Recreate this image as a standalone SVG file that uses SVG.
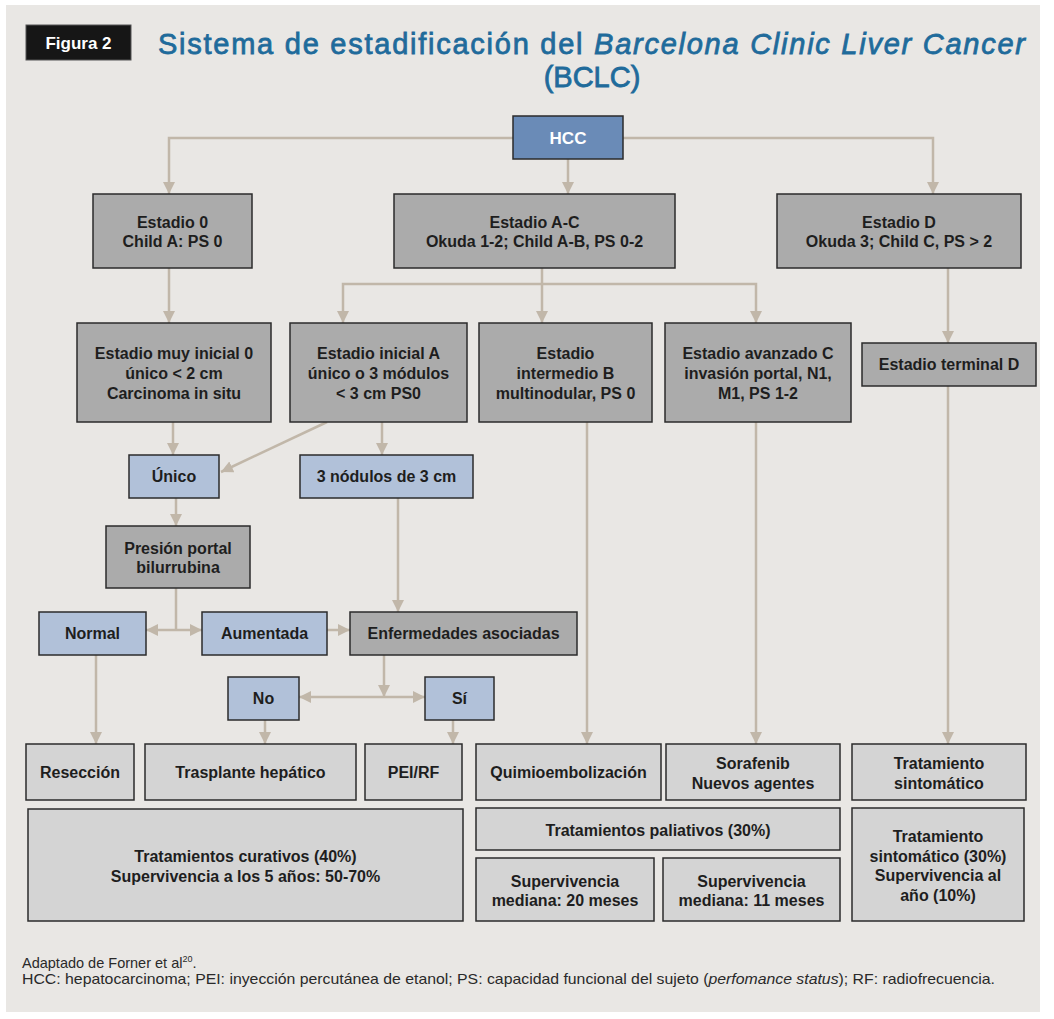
<svg xmlns="http://www.w3.org/2000/svg" width="1054" height="1019" viewBox="0 0 1054 1019">
<defs>
<style>
.t{font-family:"Liberation Sans",Arial,sans-serif;font-weight:bold;font-size:16px;fill:#1e1e1e;text-anchor:middle}
.w{fill:#ffffff;font-size:17px}
.dk{fill:#ababab;stroke:#2b2b2b;stroke-width:1.5}
.lt{fill:#d4d4d4;stroke:#2b2b2b;stroke-width:1.5}
.bl{fill:#b1c1d9;stroke:#2b2b2b;stroke-width:1.5}
.hc{fill:#6a8bb7;stroke:#2b2b2b;stroke-width:1.5}
.c{fill:none;stroke:#c1b7a9;stroke-width:2.5}
.ttl{font-family:"Liberation Sans",Arial,sans-serif;font-weight:normal;font-size:29px;fill:#1f6b9b;stroke:#1f6b9b;stroke-width:0.8}
.fn{font-family:"Liberation Sans",Arial,sans-serif;font-size:14.5px;fill:#2a2a2a}
</style>
<marker id="ah" viewBox="0 0 12 12" refX="12" refY="6" markerWidth="12" markerHeight="12" markerUnits="userSpaceOnUse" orient="auto-start-reverse">
<path d="M0,0 L12,6 L0,12 z" fill="#c1b7a9"/>
</marker>
</defs>
<rect x="0" y="0" width="1054" height="1019" fill="#ffffff"/>
<rect x="6" y="5" width="1034" height="1007" fill="#e9e7e4"/>

<g id="figlabel">
<rect x="26" y="25" width="105" height="35" fill="#161616" stroke="#555" stroke-width="1"/>
<text x="78.5" y="49" font-family="Liberation Sans,Arial,sans-serif" font-weight="bold" font-size="17" fill="#ffffff" text-anchor="middle">Figura 2</text>
</g>
<g id="title">
<text class="ttl" x="158" y="54" textLength="867" lengthAdjust="spacing">Sistema de estadificación del <tspan font-style="italic">Barcelona Clinic Liver Cancer</tspan></text>
<text class="ttl" x="592" y="87" text-anchor="middle">(BCLC)</text>
</g>

<g id="connectors">
<path class="c" d="M513,138 H169 V194" marker-end="url(#ah)"/>
<path class="c" d="M568,159 V194" marker-end="url(#ah)"/>
<path class="c" d="M623,138 H933 V194" marker-end="url(#ah)"/>
<path class="c" d="M169,268 V323" marker-end="url(#ah)"/>
<path class="c" d="M542,268 V323" marker-end="url(#ah)"/>
<path class="c" d="M343,323 V284 H756 V323" marker-start="url(#ah)" marker-end="url(#ah)"/>
<path class="c" d="M948,268 V343" marker-end="url(#ah)"/>
<path class="c" d="M173,422 V455" marker-end="url(#ah)"/>
<path class="c" d="M327,422 L221,472" marker-end="url(#ah)"/>
<path class="c" d="M382,422 V455" marker-end="url(#ah)"/>
<path class="c" d="M176,498 V526" marker-end="url(#ah)"/>
<path class="c" d="M176,588 V630"/>
<path class="c" d="M146,630 H202" marker-start="url(#ah)" marker-end="url(#ah)"/>
<path class="c" d="M327,630 H350" marker-end="url(#ah)"/>
<path class="c" d="M398,498 V612" marker-end="url(#ah)"/>
<path class="c" d="M384,655 V697" marker-end="url(#ah)"/>
<path class="c" d="M299,697 H425" marker-start="url(#ah)" marker-end="url(#ah)"/>
<path class="c" d="M96,655 V744" marker-end="url(#ah)"/>
<path class="c" d="M265,720 V744" marker-end="url(#ah)"/>
<path class="c" d="M453,720 V744" marker-end="url(#ah)"/>
<path class="c" d="M587,422 V744" marker-end="url(#ah)"/>
<path class="c" d="M756,422 V744" marker-end="url(#ah)"/>
<path class="c" d="M948,386 V744" marker-end="url(#ah)"/>
</g>

<g id="hcc"><rect class="hc" x="513" y="116" width="110" height="43"/><text class="t w" x="568" y="144">HCC</text></g>

<g id="estadio0"><rect class="dk" x="93" y="194" width="159" height="74"/>
<text class="t" x="172.5" y="227.5">Estadio 0</text><text class="t" x="172.5" y="246.5">Child A: PS 0</text></g>
<g id="estadioAC"><rect class="dk" x="394" y="194" width="281" height="74"/>
<text class="t" x="534.5" y="227.5">Estadio A-C</text><text class="t" x="534.5" y="246.5">Okuda 1-2; Child A-B, PS 0-2</text></g>
<g id="estadioD"><rect class="dk" x="777" y="194" width="244" height="74"/>
<text class="t" x="899" y="227.5">Estadio D</text><text class="t" x="899" y="246.5">Okuda 3; Child C, PS &gt; 2</text></g>

<g id="muyinicial"><rect class="dk" x="77" y="323" width="194" height="99"/>
<text class="t" x="174" y="358.5">Estadio muy inicial 0</text><text class="t" x="174" y="378.5">único &lt; 2 cm</text><text class="t" x="174" y="398.5">Carcinoma in situ</text></g>
<g id="inicialA"><rect class="dk" x="290" y="323" width="177" height="99"/>
<text class="t" x="378.5" y="358.5">Estadio inicial A</text><text class="t" x="378.5" y="378.5">único o 3 módulos</text><text class="t" x="378.5" y="398.5">&lt; 3 cm PS0</text></g>
<g id="intermedioB"><rect class="dk" x="479" y="323" width="173" height="99"/>
<text class="t" x="565.5" y="358.5">Estadio</text><text class="t" x="565.5" y="378.5">intermedio B</text><text class="t" x="565.5" y="398.5">multinodular, PS 0</text></g>
<g id="avanzadoC"><rect class="dk" x="665" y="323" width="186" height="99"/>
<text class="t" x="758" y="358.5">Estadio avanzado C</text><text class="t" x="758" y="378.5">invasión portal, N1,</text><text class="t" x="758" y="398.5">M1, PS 1-2</text></g>
<g id="terminalD"><rect class="dk" x="862" y="343" width="174" height="43"/>
<text class="t" x="949" y="370">Estadio terminal D</text></g>

<g id="unico"><rect class="bl" x="129" y="455" width="90" height="43"/><text class="t" x="174" y="482">Único</text></g>
<g id="tresnodulos"><rect class="bl" x="300" y="455" width="173" height="43"/><text class="t" x="386.5" y="482">3 nódulos de 3 cm</text></g>
<g id="presion"><rect class="dk" x="106" y="526" width="144" height="62"/>
<text class="t" x="178" y="553.5">Presión portal</text><text class="t" x="178" y="572.5">bilurrubina</text></g>

<g id="normal"><rect class="bl" x="39" y="612" width="107" height="43"/><text class="t" x="92.5" y="639">Normal</text></g>
<g id="aumentada"><rect class="bl" x="202" y="612" width="125" height="43"/><text class="t" x="264.5" y="639">Aumentada</text></g>
<g id="enfermedades"><rect class="dk" x="350" y="612" width="227" height="43"/><text class="t" x="463.5" y="639">Enfermedades asociadas</text></g>
<g id="no"><rect class="bl" x="228" y="677" width="71" height="43"/><text class="t" x="263.5" y="704">No</text></g>
<g id="si"><rect class="bl" x="425" y="677" width="69" height="43"/><text class="t" x="459.5" y="704">Sí</text></g>

<g id="reseccion"><rect class="lt" x="26" y="744" width="108" height="56"/><text class="t" x="80" y="777.5">Resección</text></g>
<g id="trasplante"><rect class="lt" x="145" y="744" width="211" height="56"/><text class="t" x="250.5" y="777.5">Trasplante hepático</text></g>
<g id="peirf"><rect class="lt" x="365" y="744" width="97" height="56"/><text class="t" x="413.5" y="777.5">PEI/RF</text></g>
<g id="quimio"><rect class="lt" x="476" y="744" width="185" height="56"/><text class="t" x="568.5" y="777.5">Quimioembolización</text></g>
<g id="sorafenib"><rect class="lt" x="666" y="744" width="174" height="56"/>
<text class="t" x="753" y="768.5">Sorafenib</text><text class="t" x="753" y="788.5">Nuevos agentes</text></g>
<g id="sintomatico"><rect class="lt" x="852" y="744" width="174" height="56"/>
<text class="t" x="939" y="768.5">Tratamiento</text><text class="t" x="939" y="788.5">sintomático</text></g>

<g id="curativos"><rect class="lt" x="28" y="809" width="435" height="112"/>
<text class="t" x="245.5" y="861.5">Tratamientos curativos (40%)</text><text class="t" x="245.5" y="881.5">Supervivencia a los 5 años: 50-70%</text></g>
<g id="paliativos"><rect class="lt" x="476" y="808" width="364" height="42"/><text class="t" x="658" y="835.5">Tratamientos paliativos (30%)</text></g>
<g id="superv20"><rect class="lt" x="476" y="858" width="178" height="63"/>
<text class="t" x="565" y="886.5">Supervivencia</text><text class="t" x="565" y="905.5">mediana: 20 meses</text></g>
<g id="superv11"><rect class="lt" x="663" y="858" width="177" height="63"/>
<text class="t" x="751.5" y="886.5">Supervivencia</text><text class="t" x="751.5" y="905.5">mediana: 11 meses</text></g>
<g id="sintomatico30"><rect class="lt" x="852" y="808" width="172" height="113"/>
<text class="t" x="938" y="841.5">Tratamiento</text><text class="t" x="938" y="861.5">sintomático (30%)</text><text class="t" x="938" y="880.5">Supervivencia al</text><text class="t" x="938" y="900.5">año (10%)</text></g>

<g id="footnote">
<text class="fn" x="22" y="968">Adaptado de Forner et al<tspan font-size="9" dy="-6">20</tspan><tspan dy="6">.</tspan></text>
<text class="fn" x="22" y="984" textLength="973" lengthAdjust="spacingAndGlyphs">HCC: hepatocarcinoma; PEI: inyección percutánea de etanol; PS: capacidad funcional del sujeto (<tspan font-style="italic">perfomance status</tspan>); RF: radiofrecuencia.</text>
</g>
</svg>
